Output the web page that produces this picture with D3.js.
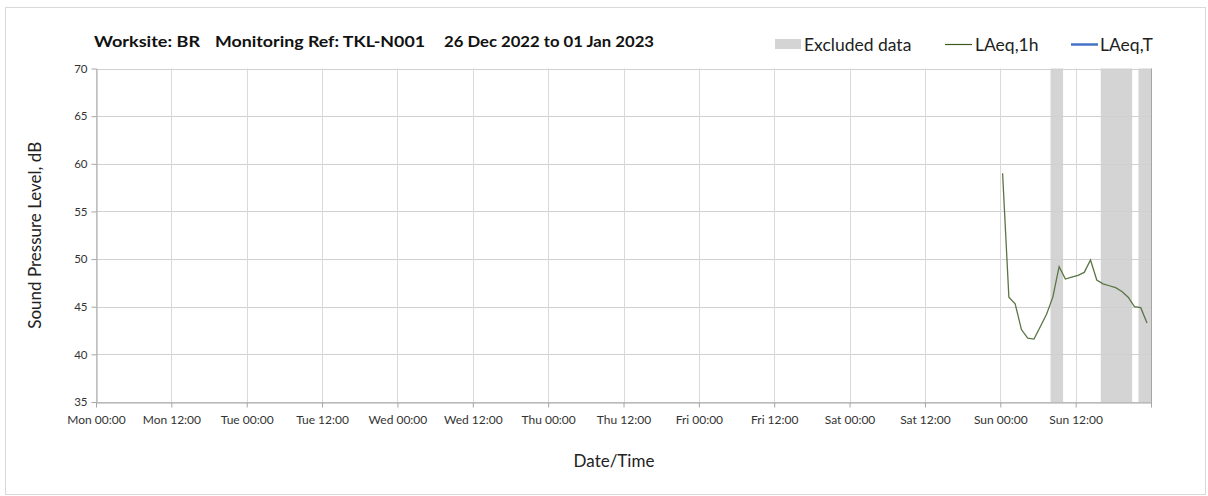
<!DOCTYPE html>
<html><head><meta charset="utf-8">
<script src="https://cdn.jsdelivr.net/npm/d3@7"></script>
<style>
html,body{margin:0;padding:0;background:#fff;}
text{font-family:Lato,"Open Sans",sans-serif;}
</style></head>
<body><svg id="c" width="1208" height="496"></svg>
<script>
// ---- data ----
const titleParts = ["Worksite: BR", "Monitoring Ref: TKL-N001", "26 Dec 2022 to 01 Jan 2023"];
const startDate = new Date(2022, 11, 26, 0, 0);
const endDate = new Date(2023, 0, 2, 0, 0);
// hourly LAeq,1h readings on Sun 01 Jan 2023 (hour of day, logged ~22 min past)
const sampleHours = [0,1,2,3,4,5,6,7,8,9,10,11,12,13,14,15,16,17,18,19,20,21,22,23];
const laeq1h = [59.0,46.0,45.3,42.6,41.7,41.6,42.9,44.2,46.0,49.2,47.9,48.1,48.3,48.6,49.9,47.8,47.4,47.2,47.0,46.6,46.0,45.0,44.9,43.3];
const sampleMinute = 22;
// excluded periods on Sun 01 Jan 2023 (start hour, end hour)
const excludedStart = [8, 16, 22];
const excludedEnd = [10, 21, 24];
const yTicks = [35,40,45,50,55,60,65,70];
const legendLabels = ["Excluded data", "LAeq,1h", "LAeq,T"];

const svg = d3.select("#c");
const M = {left: 96, right: 1151, top: 68.5, bottom: 402};

svg.append("rect").attr("x",5.5).attr("y",7.5).attr("width",1200).attr("height",487)
  .attr("fill","#fff").attr("stroke","#d9d9d9");

const x = d3.scaleTime().domain([startDate, endDate]).range([M.left, M.right]);
const y = d3.scaleLinear().domain([35,70]).range([M.bottom, M.top]);

const sunday = new Date(2023,0,1,0,0);
const hourDate = h => new Date(sunday.getTime() + h*3600000);
const xTicks = d3.timeHour.every(12).range(startDate, d3.timeHour.offset(endDate,1));

// excluded bands
svg.append("g").selectAll("rect").data(excludedStart.map((s,i)=>[s,excludedEnd[i]])).join("rect")
  .attr("x",d=>x(hourDate(d[0]))).attr("width",d=>x(hourDate(d[1]))-x(hourDate(d[0])))
  .attr("y",M.top).attr("height",M.bottom-M.top)
  .attr("fill","#d4d4d4");

// gridlines
const g = svg.append("g");
g.selectAll("line.hg").data(yTicks).join("line")
  .attr("x1",M.left).attr("x2",M.right)
  .attr("y1",d=>Math.round(y(d))+0.5).attr("y2",d=>Math.round(y(d))+0.5)
  .attr("stroke","#d0d0d0").attr("stroke-width",1);
g.selectAll("line.vg").data(xTicks).join("line")
  .attr("x1",d=>Math.round(x(d))+0.5).attr("x2",d=>Math.round(x(d))+0.5)
  .attr("y1",M.top).attr("y2",M.bottom)
  .attr("stroke","#d9d9d9").attr("stroke-width",1);

// right border
svg.append("line").attr("x1",M.right+0.5).attr("x2",M.right+0.5).attr("y1",M.top).attr("y2",M.bottom+5)
  .attr("stroke","#a6a6a6");

// axes
const xAxis = d3.axisBottom(x).tickValues(xTicks).tickSize(5).tickSizeOuter(0)
  .tickFormat(d => +d === +endDate ? "" : d3.timeFormat("%a %H:%M")(d));
const gx = svg.append("g").attr("transform",`translate(0,${Math.round(M.bottom)+0.5})`).call(xAxis);
gx.select(".domain").attr("stroke","#a6a6a6");
gx.selectAll(".tick line").attr("stroke","#a6a6a6");
gx.selectAll(".tick text").attr("fill","#333").attr("font-size","12px").attr("dy","1.15em")
  .style("font-family","Lato,'Open Sans',sans-serif");

const yAxis = d3.axisLeft(y).tickValues(yTicks).tickSize(5).tickSizeOuter(0);
const gy = svg.append("g").attr("transform",`translate(${M.left+0.5},0)`).call(yAxis);
gy.select(".domain").attr("stroke","#a6a6a6");
gy.selectAll(".tick line").attr("stroke","#a6a6a6");
gy.selectAll(".tick text").attr("fill","#333").attr("font-size","11.5px").attr("x",-9)
  .style("font-family","Lato,'Open Sans',sans-serif");

// line
const pts = sampleHours.map((h,i)=>({t:new Date(hourDate(h).getTime()+sampleMinute*60000), v:laeq1h[i]}));
svg.append("path").datum(pts)
  .attr("fill","none").attr("stroke","#5a7544").attr("stroke-width",1.3)
  .attr("d", d3.line().x(d=>x(d.t)).y(d=>y(d.v)));

// titles
const tx = [94, 215, 444];
const tw = [106, 210, 210];
svg.append("g").selectAll("text").data(titleParts).join("text")
  .attr("x",(d,i)=>tx[i]).attr("y",47)
  .attr("textLength",(d,i)=>tw[i]).attr("lengthAdjust","spacingAndGlyphs")
  .attr("font-size","16px").attr("font-weight","bold").attr("fill","#111").text(d=>d);

svg.append("text").attr("transform",`translate(41,${(M.top+M.bottom)/2}) rotate(-90)`)
  .attr("text-anchor","middle").attr("font-size","17px").attr("fill","#222")
  .text("Sound Pressure Level, dB");
svg.append("text").attr("x",614).attr("y",467).attr("text-anchor","middle")
  .attr("font-size","17px").attr("fill","#222").text("Date/Time");

// legend
const lg = svg.append("g");
lg.append("rect").attr("x",775).attr("y",39).attr("width",26).attr("height",10).attr("fill","#d4d4d4");
lg.append("text").attr("x",804).attr("y",50.5).attr("font-size","17.5px").attr("fill","#222").text(legendLabels[0]);
lg.append("line").attr("x1",945).attr("x2",972).attr("y1",44.5).attr("y2",44.5).attr("stroke","#3d5a1f").attr("stroke-width",1.2);
lg.append("text").attr("x",975).attr("y",50.5).attr("font-size","17.5px").attr("fill","#222").text(legendLabels[1]);
lg.append("line").attr("x1",1071).attr("x2",1098).attr("y1",44.5).attr("y2",44.5).attr("stroke","#4472c4").attr("stroke-width",2.5);
lg.append("text").attr("x",1100).attr("y",50.5).attr("font-size","17.5px").attr("fill","#222").text(legendLabels[2]);
</script></body></html>
